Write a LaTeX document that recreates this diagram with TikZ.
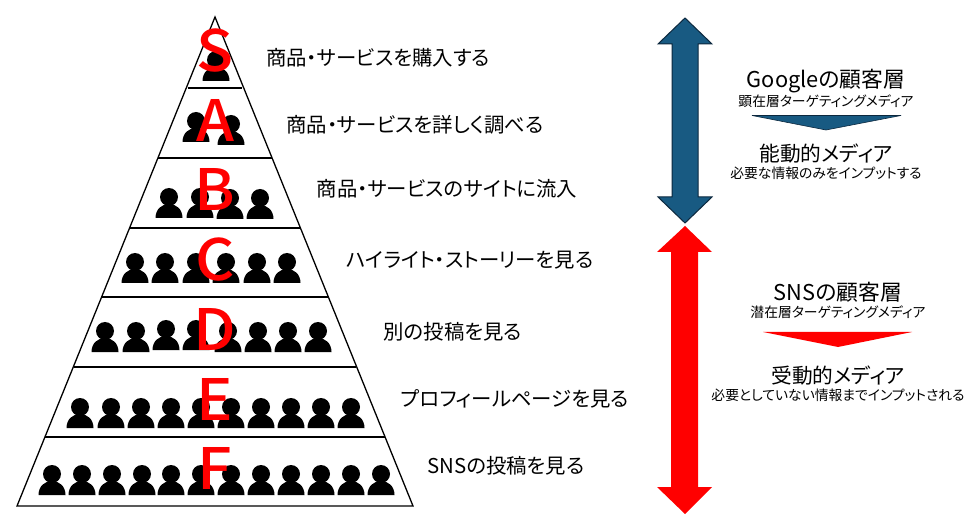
\documentclass[tikz,border=0pt]{standalone}
\usepackage{fontspec}
\setmainfont{Noto Sans CJK JP}[RawFeature={+palt}]
\newfontfamily\letterfont{Noto Sans CJK JP}[UprightFont=* Medium]
\definecolor{MediaBlue}{RGB}{24,90,130}
\definecolor{MediaEdge}{RGB}{12,40,62}
\definecolor{TierRed}{RGB}{255,0,0}
\usetikzlibrary{positioning, calc}
\tikzset{
  tierline/.style={black, line width=1.3pt},
  tierletter/.style={text=TierRed, font=\letterfont\fontsize{57}{57}\selectfont, inner sep=0pt, anchor=base, xscale=1.07},
  steplabel/.style={font=\fontsize{20.4}{22}\selectfont, inner sep=0pt},
  headlabel/.style={font=\fontsize{20.7}{22}\selectfont, inner sep=0pt},
  sublabel/.style={font=\fontsize{13.8}{15}\selectfont, inner sep=0pt},
  person/.pic={
    \fill[black] (0,-21) circle (9);
    \fill[black] (-13.5,0) .. controls (-13.5,-9) and (-7,-14) .. (0,-14)
          .. controls (7,-14) and (13.5,-9) .. (13.5,0) -- cycle;
  }
}
\begin{document}
\begin{tikzpicture}[x=1pt, y=-1pt]
  \useasboundingbox (0,0) rectangle (980,529);

  % pyramid
  \coordinate (apex) at (215,17);
  \coordinate (baseleft) at (17,506);
  \coordinate (baseright) at (413,506);
  \draw[tierline, line join=miter] (apex) -- (baseleft) -- (baseright) -- cycle;
  \foreach \y/\w in {88/27, 158/57, 228/85, 297/113, 367/141, 437/170}
    \draw[tierline] (215-\w,\y) -- (215+\w,\y);

  % people, one row per tier
  \foreach \x/\y in {216/81, 196/142, 231/145, 169/218, 200/218, 230/219, 260/219}
    \pic at (\x,\y) {person};
  \foreach \x in {135,165,196,226,257,287}
    \pic at (\x,283) {person};
  \foreach \x/\y in {105/352,136/352,166/350,196/350,228/352,258/352,288/352,318/352}
    \pic at (\x,\y) {person};
  \foreach \x in {80,111,141,171,201,231,261,291,321,351}
    \pic at (\x,428) {person};
  \foreach \x in {52,82,112,142,171,201,231,261,291,321,351,381}
    \pic at (\x,495) {person};

  % letters
  \foreach \name/\y in {S/72, A/142, B/211, C/281, D/350, E/420, F/489}
    \node[tierletter] (letter\name) at (215,\y) {\name};

  % what happens at each tier
  \node[steplabel] (buy) at (378,58) {商品・サービスを購入する};
  \node[steplabel] (study) at (415,125) {商品・サービスを詳しく調べる};
  \node[steplabel] (visit) at (447,189) {商品・サービスのサイトに流入};
  \node[steplabel] (story) at (470,260) {ハイライト・ストーリーを見る};
  \node[steplabel] (other) at (453,332) {別の投稿を見る};
  \node[steplabel] (profile) at (515,399) {プロフィールページを見る};
  \node[steplabel] (post) at (506,466) {SNSの投稿を見る};

  % block arrows
  \fill[MediaBlue, draw=MediaEdge, line width=1pt] (685,18) -- (712,44) -- (698,44) -- (698,197)
        -- (712,197) -- (685,223) -- (658,197) -- (672,197) -- (672,44) -- (658,44) -- cycle;
  \fill[TierRed] (685,226) -- (712,252) -- (698,252) -- (698,487)
        -- (712,487) -- (685,514) -- (657,487) -- (671,487) -- (671,252) -- (657,252) -- cycle;

  % google side
  \node[headlabel, font=\fontsize{21.8}{22}\selectfont] (googlehead) at (826,81) {Googleの顧客層};
  \node[sublabel] (googlesub) at (826,101) {顕在層ターゲティングメディア};
  \fill[MediaBlue, draw=MediaEdge, line width=.6pt] (752,115.5) -- (901,115.5) -- (826,130) -- cycle;
  \node[headlabel] (activehead) at (826,154) {能動的メディア};
  \node[sublabel] (activesub) at (826,173) {必要な情報のみをインプットする};

  % sns side
  \node[headlabel, font=\fontsize{21.8}{22}\selectfont] (snshead) at (838,292) {SNSの顧客層};
  \node[sublabel] (snssub) at (838,312) {潜在層ターゲティングメディア};
  \fill[TierRed] (763,332) -- (912,332) -- (838,347) -- cycle;
  \node[headlabel] (passivehead) at (838,376) {受動的メディア};
  \node[sublabel] (passivesub) at (838,395) {必要としていない情報までインプットされる};
\end{tikzpicture}
\end{document}
